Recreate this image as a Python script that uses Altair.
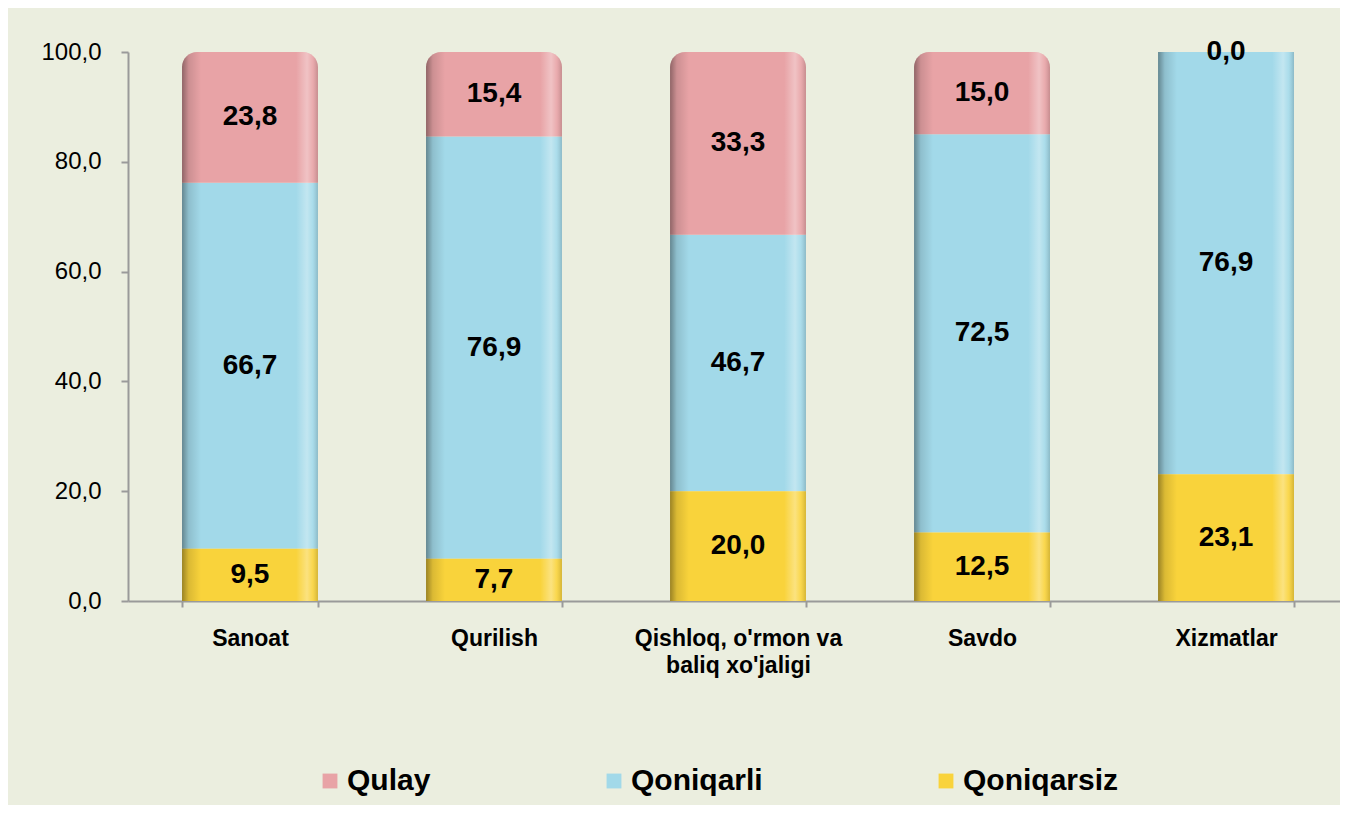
import altair as alt
import pandas as pd

categories = ["Sanoat", "Qurilish", "Qishloq, o'rmon va\nbaliq xo'jaligi", "Savdo", "Xizmatlar"]
series = ["Qulay", "Qoniqarli", "Qoniqarsiz"]
qulay = [23.8, 15.4, 33.3, 15.0, 0.0]
qoniqarli = [66.7, 76.9, 46.7, 72.5, 76.9]
qoniqarsiz = [9.5, 7.7, 20.0, 12.5, 23.1]
y_ticks = [0, 20, 40, 60, 80, 100]

colors = ["#E8A3A6", "#A2D9E9", "#F9D33B"]
stack_rank = {"Qoniqarsiz": 0, "Qoniqarli": 1, "Qulay": 2}

rows = []
for i, c in enumerate(categories):
    for s, vals in zip(series, [qulay, qoniqarli, qoniqarsiz]):
        rows.append({"cat": c, "series": s, "value": vals[i], "ord": stack_rank[s]})
df = pd.DataFrame(rows)

FONT = "Liberation Sans"

base = (
    alt.Chart(df)
    .transform_stack(
        stack="value",
        groupby=["cat"],
        as_=["y0", "y1"],
        sort=[alt.SortField("ord", order="ascending")],
    )
    .transform_calculate(
        mid="(datum.y0 + datum.y1) / 2",
        lbl="replace(format(datum.value, '.1f'), '.', ',')",
    )
)

x_scale = alt.Scale(paddingInner=0.443, paddingOuter=0.205, align=0.54)

x_enc = alt.X(
    "cat:N",
    sort=categories,
    scale=x_scale,
    axis=alt.Axis(
        title=None,
        labelAngle=0,
        labelExpr="datum.value ? split(datum.value, '\\n') : ''",
        labelFont=FONT,
        labelFontSize=23,
        labelFontWeight="bold",
        labelColor="#000000",
        labelPadding=20,
        labelLineHeight=27,
        labelLimit=400,
        tickBand="extent",
        tickSize=6,
        tickColor="#9a9a9a",
        domainColor="#9a9a9a",
        domainWidth=2,
        tickWidth=2,
    ),
)

y_enc = alt.Y(
    "y0:Q",
    scale=alt.Scale(domain=[0, 100], nice=False),
    axis=alt.Axis(
        title=None,
        values=y_ticks,
        labelExpr="replace(format(datum.value, '.1f'), '.', ',')",
        labelFont=FONT,
        labelFontSize=24,
        labelColor="#000000",
        labelPadding=20,
        tickSize=7,
        tickColor="#9a9a9a",
        domainColor="#9a9a9a",
        domainWidth=2,
        tickWidth=2,
        grid=False,
    ),
)

color_enc = alt.Color(
    "series:N",
    scale=alt.Scale(domain=series, range=colors),
    legend=alt.Legend(
        title=None,
        orient="none",
        legendX=187,
        legendY=714,
        direction="horizontal",
        symbolType="square",
        symbolSize=220,
        symbolStrokeWidth=0,
        labelFont=FONT,
        labelFontSize=30,
        labelFontWeight="bold",
        labelColor="#000000",
        labelLimit=400,
        labelOffset=2,
        columnPadding=168,
    ),
)

shade = alt.Gradient(
    gradient="linear",
    x1=0, x2=1, y1=0, y2=0,
    stops=[
        alt.GradientStop(color="rgba(0,0,0,0.38)", offset=0),
        alt.GradientStop(color="rgba(0,0,0,0.12)", offset=0.05),
        alt.GradientStop(color="rgba(0,0,0,0.0)", offset=0.14),
        alt.GradientStop(color="rgba(255,255,255,0.0)", offset=0.84),
        alt.GradientStop(color="rgba(255,255,255,0.35)", offset=0.92),
        alt.GradientStop(color="rgba(255,255,255,0.1)", offset=0.96),
        alt.GradientStop(color="rgba(0,0,0,0.15)", offset=1),
    ],
)

is_top = "datum.series == 'Qulay'"
not_top = "datum.series != 'Qulay'"

bars_low = base.transform_filter(not_top).mark_bar().encode(
    x=x_enc, y=y_enc, y2="y1:Q", color=color_enc
)
bars_top = base.transform_filter(is_top).mark_bar(
    cornerRadiusTopLeft=15, cornerRadiusTopRight=15
).encode(x=x_enc, y=y_enc, y2="y1:Q", color=color_enc)

shade_low = base.transform_filter(not_top).mark_bar(color=shade).encode(
    x=x_enc, y=y_enc, y2="y1:Q"
)
shade_top = base.transform_filter(is_top).mark_bar(
    color=shade, cornerRadiusTopLeft=15, cornerRadiusTopRight=15
).encode(x=x_enc, y=y_enc, y2="y1:Q")

labels = base.mark_text(
    font=FONT, fontSize=28, fontWeight="bold", color="#000000", baseline="middle"
).encode(
    x=alt.X("cat:N", sort=categories),
    y=alt.Y("mid:Q"),
    text="lbl:N",
)

chart = (
    alt.layer(bars_low, bars_top, shade_low, shade_top, labels)
    .properties(
        width=1212,
        height=549,
        background="#EBEEDF",
        padding={"left": 120, "top": 44, "right": 0, "bottom": 204},
        autosize=alt.AutoSizeParams(type="none"),
    )
    .configure_view(stroke=None)
)

chart.save("out.html", embed_options={"renderer": "svg", "actions": False})
